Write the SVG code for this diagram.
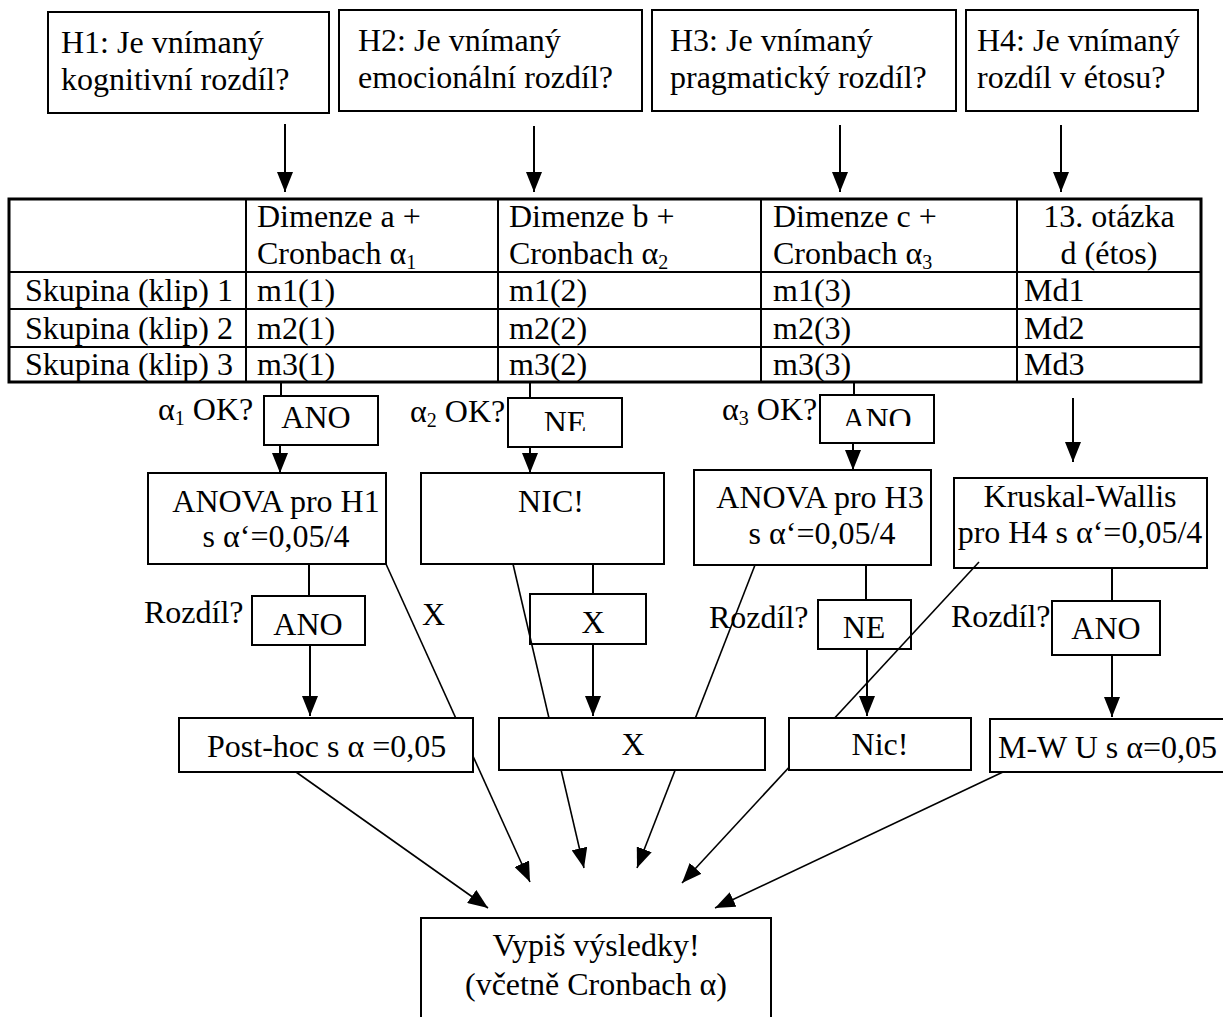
<svg xmlns="http://www.w3.org/2000/svg" width="1223" height="1017" viewBox="0 0 1223 1017">
  <style>
    .t { font-family: "Liberation Serif", "Times New Roman", serif; font-size: 32px; fill: #000; }
    .c { text-anchor: middle; }
    .box { fill: #fff; stroke: #000; stroke-width: 2; }
    .ln { stroke: #000; stroke-width: 2; fill: none; }
    .thin { stroke: #000; stroke-width: 1.6; fill: none; }
    .arr { marker-end: url(#ah); }
    .tbl { fill: #fff; stroke: #000; stroke-width: 3; }
  </style>
  <defs>
    <marker id="ah" viewBox="0 0 20 16" refX="20" refY="8" markerWidth="20" markerHeight="16" markerUnits="userSpaceOnUse" orient="auto">
      <path d="M0,0 L20,8 L0,16 Z" fill="#000"/>
    </marker>
    <clipPath id="clipNE"><rect x="508" y="398" width="114" height="33"/></clipPath>
    <clipPath id="clipANO3"><rect x="820" y="395" width="114" height="31"/></clipPath>
  </defs>
  <rect width="1223" height="1017" fill="#fff"/>

  <!-- hypothesis boxes -->
  <g id="h1">
    <rect class="box" x="48" y="12" width="281" height="101"/>
    <text class="t" x="61" y="53">H1: Je vnímaný</text>
    <text class="t" x="61" y="90">kognitivní rozdíl?</text>
  </g>
  <g id="h2">
    <rect class="box" x="339" y="10" width="303" height="101"/>
    <text class="t" x="358" y="51">H2: Je vnímaný</text>
    <text class="t" x="358" y="88">emocionální rozdíl?</text>
  </g>
  <g id="h3">
    <rect class="box" x="652" y="10" width="304" height="101"/>
    <text class="t" x="670" y="51">H3: Je vnímaný</text>
    <text class="t" x="670" y="88">pragmatický rozdíl?</text>
  </g>
  <g id="h4">
    <rect class="box" x="966" y="10" width="232" height="101"/>
    <text class="t" x="977" y="51">H4: Je vnímaný</text>
    <text class="t" x="977" y="88">rozdíl v étosu?</text>
  </g>

  <!-- data table -->
  <g id="table">
    <rect class="tbl" x="9" y="199" width="1192" height="183"/>
    <path class="ln" d="M9,272 H1201 M9,309 H1201 M9,347 H1201 M246,199 V382 M498,199 V382 M761,199 V382 M1017,199 V382"/>
    <text class="t" x="257" y="227">Dimenze a +</text>
    <text class="t" x="257" y="264">Cronbach α<tspan font-size="20" dy="5">1</tspan></text>
    <text class="t" x="509" y="227">Dimenze b +</text>
    <text class="t" x="509" y="264">Cronbach α<tspan font-size="20" dy="5">2</tspan></text>
    <text class="t" x="773" y="227">Dimenze c +</text>
    <text class="t" x="773" y="264">Cronbach α<tspan font-size="20" dy="5">3</tspan></text>
    <text class="t c" x="1109" y="227">13. otázka</text>
    <text class="t c" x="1109" y="264">d (étos)</text>
    <text class="t" x="25" y="301">Skupina (klip) 1</text>
    <text class="t" x="25" y="339">Skupina (klip) 2</text>
    <text class="t" x="25" y="375">Skupina (klip) 3</text>
    <text class="t" x="257" y="301">m1(1)</text>
    <text class="t" x="257" y="339">m2(1)</text>
    <text class="t" x="257" y="375">m3(1)</text>
    <text class="t" x="509" y="301">m1(2)</text>
    <text class="t" x="509" y="339">m2(2)</text>
    <text class="t" x="509" y="375">m3(2)</text>
    <text class="t" x="773" y="301">m1(3)</text>
    <text class="t" x="773" y="339">m2(3)</text>
    <text class="t" x="773" y="375">m3(3)</text>
    <text class="t" x="1024" y="301">Md1</text>
    <text class="t" x="1024" y="339">Md2</text>
    <text class="t" x="1024" y="375">Md3</text>
  </g>

  <!-- reliability checks -->
  <g id="alpha1-ano">
    <rect class="box" x="264" y="396" width="114" height="49"/>
    <text class="t c" x="316" y="428">ANO</text>
  </g>
  <g id="alpha2-ne">
    <rect class="box" x="508" y="398" width="114" height="49"/>
    <text class="t c" x="565" y="433" clip-path="url(#clipNE)">NE</text>
  </g>
  <g id="alpha3-ano">
    <rect class="box" x="820" y="395" width="114" height="48"/>
    <text class="t c" x="877" y="430" clip-path="url(#clipANO3)">ANO</text>
  </g>

  <!-- tests -->
  <g id="anova-h1">
    <rect class="box" x="148" y="473" width="238" height="91"/>
    <text class="t c" x="276" y="512">ANOVA pro H1</text>
    <text class="t c" x="276" y="547">s α‘=0,05/4</text>
  </g>
  <g id="nic-h2">
    <rect class="box" x="421" y="473" width="243" height="91"/>
    <text class="t c" x="551" y="512">NIC!</text>
  </g>
  <g id="anova-h3">
    <rect class="box" x="694" y="470" width="237" height="95"/>
    <text class="t c" x="820" y="508">ANOVA pro H3</text>
    <text class="t c" x="822" y="544">s α‘=0,05/4</text>
  </g>
  <g id="kw-h4">
    <rect class="box" x="954" y="478" width="253" height="90"/>
    <text class="t c" x="1080" y="507">Kruskal-Wallis</text>
    <text class="t c" x="1080" y="543">pro H4 s α‘=0,05/4</text>
  </g>

  <!-- difference checks -->
  <g id="diff-h1-ano">
    <rect class="box" x="252" y="596" width="113" height="49"/>
    <text class="t c" x="308" y="635">ANO</text>
  </g>
  <g id="diff-h2-x">
    <rect class="box" x="530" y="594" width="116" height="50"/>
    <text class="t c" x="593" y="633">X</text>
  </g>
  <g id="diff-h3-ne">
    <rect class="box" x="818" y="600" width="93" height="49"/>
    <text class="t c" x="864" y="638">NE</text>
  </g>
  <g id="diff-h4-ano">
    <rect class="box" x="1052" y="601" width="108" height="54"/>
    <text class="t c" x="1106" y="639">ANO</text>
  </g>

  <!-- connectors -->
  <g id="connectors">
    <path class="ln arr" d="M285,124 V192"/>
    <path class="ln arr" d="M534,126 V192"/>
    <path class="ln arr" d="M840,125 V192"/>
    <path class="ln arr" d="M1061,125 V192"/>
    <path class="ln" d="M281,383 V396 M530,383 V398 M854,383 V395"/>
    <path class="ln arr" d="M1073,398 V462"/>
    <path class="ln arr" d="M280,445 V473"/>
    <path class="ln arr" d="M530,447 V473"/>
    <path class="ln arr" d="M853,443 V470"/>
    <path class="ln" d="M309,564 V596"/>
    <path class="ln arr" d="M310,645 V716"/>
    <path class="ln" d="M593,564 V594"/>
    <path class="ln arr" d="M593,644 V716"/>
    <path class="ln" d="M866,565 V600"/>
    <path class="ln arr" d="M867,649 V716"/>
    <path class="ln" d="M1112,568 V601"/>
    <path class="ln arr" d="M1112,655 V717"/>
    <path class="thin arr" d="M386,564 L530,882"/>
    <path class="thin arr" d="M513,564 L584,868"/>
    <path class="thin arr" d="M755,565 L637,868"/>
    <path class="thin arr" d="M979,562 L682,883"/>
    <path class="thin arr" d="M296,772 L488,908"/>
    <path class="thin arr" d="M1003,772 L715,908"/>
    <text class="t" x="158" y="420">α<tspan font-size="20" dy="5">1</tspan><tspan dy="-5"> OK?</tspan></text>
    <text class="t" x="410" y="422">α<tspan font-size="20" dy="5">2</tspan><tspan dy="-5"> OK?</tspan></text>
    <text class="t" x="722" y="420">α<tspan font-size="20" dy="5">3</tspan><tspan dy="-5"> OK?</tspan></text>
    <text class="t" x="144" y="623">Rozdíl?</text>
    <text class="t" x="422" y="625">X</text>
    <text class="t" x="709" y="628">Rozdíl?</text>
    <text class="t" x="951" y="627">Rozdíl?</text>
  </g>

  <!-- outcomes -->
  <g id="posthoc">
    <rect class="box" x="179" y="718" width="294" height="54"/>
    <text class="t" x="207" y="757">Post-hoc s α =0,05</text>
  </g>
  <g id="x-out">
    <rect class="box" x="499" y="718" width="266" height="52"/>
    <text class="t c" x="633" y="755">X</text>
  </g>
  <g id="nic-out">
    <rect class="box" x="789" y="718" width="182" height="52"/>
    <text class="t c" x="880" y="755">Nic!</text>
  </g>
  <g id="mwu">
    <rect class="box" x="990" y="719" width="240" height="53"/>
    <text class="t" x="998" y="758">M-W U s α=0,05</text>
  </g>
  <g id="results">
    <rect class="box" x="421" y="918" width="350" height="110"/>
    <text class="t c" x="596" y="956">Vypiš výsledky!</text>
    <text class="t c" x="596" y="995">(včetně Cronbach α)</text>
  </g>
</svg>
